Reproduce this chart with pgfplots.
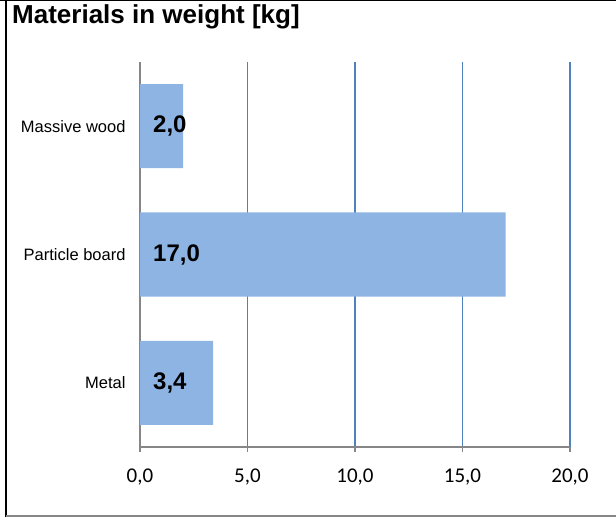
\documentclass[border=0pt]{standalone}
\usepackage{pgfplots}
\pgfplotsset{compat=1.18}
\usepackage{fontspec}
\setmainfont{Liberation Sans}
\newfontfamily\calib{Carlito}
\definecolor{barblue}{HTML}{8EB4E3}
\definecolor{gridblue}{HTML}{4F81BD}
\definecolor{axgray}{HTML}{868686}
\begin{document}
\begin{tikzpicture}[x=1bp,y=1bp]
\useasboundingbox (0,0) rectangle (616,-517);
\draw[black,line width=2.5bp] (6,0.5) -- (6,-517);
\draw[black,line width=1.5bp] (0,-0.5) -- (616,-0.5);
\draw[axgray,line width=1.2bp] (6,-516) -- (616,-516);
\node[anchor=north west,inner sep=0pt,font=\fontsize{26bp}{30bp}\selectfont\bfseries] at (12,-4) {Materials in weight [kg]};
\begin{axis}[
  at={(140bp,-447bp)}, anchor=south west,
  scale only axis, width=430bp, height=385bp,
  xmin=0, xmax=20, ymin=-0.5, ymax=2.5,
  y dir=reverse,
  axis x line=bottom, axis y line=left,
  axis line style={draw=axgray,line width=1.5bp,-},
  xtick={0,5,10,15,20},
  xmajorgrids,
  grid style={gridblue,line width=1.8bp},
  ytick={0,1,2},
  yticklabels={Massive wood,Particle board,Metal},
  minor ytick={-0.5,0.5,1.5,2.5},
  tick align=outside,
  major tick length=5bp, minor tick length=5bp,
  every tick/.style={axgray,line width=1.2bp},
  ytick style={draw=none},
  minor y tick style={axgray,line width=1.2bp},
  yticklabel style={font=\fontsize{16.5bp}{19bp}\selectfont, xshift=-6bp},
  xticklabel style={font=\calib\fontsize{21bp}{25bp}\selectfont, yshift=-13bp},
  /pgf/number format/assume math mode=true,
  xticklabel={\pgfmathprintnumber[fixed,fixed zerofill,precision=1,use comma]{\tick}},
  clip=false,
]
\addplot[xbar, bar width=0.655, fill=barblue, draw=none] coordinates {(2.0,0) (17.0,1) (3.4,2)};
\addplot[draw=none, mark=none, point meta=explicit,
  nodes near coords={\pgfmathprintnumber[fixed,fixed zerofill,precision=1,use comma,assume math mode=true]{\pgfplotspointmeta}},
  nodes near coords style={anchor=west, inner sep=0pt, xshift=13bp, font=\fontsize{24bp}{28bp}\selectfont\bfseries}]
  coordinates {(0,0) [2.0] (0,1) [17.0] (0,2) [3.4]};
\end{axis}
\end{tikzpicture}
\end{document}
